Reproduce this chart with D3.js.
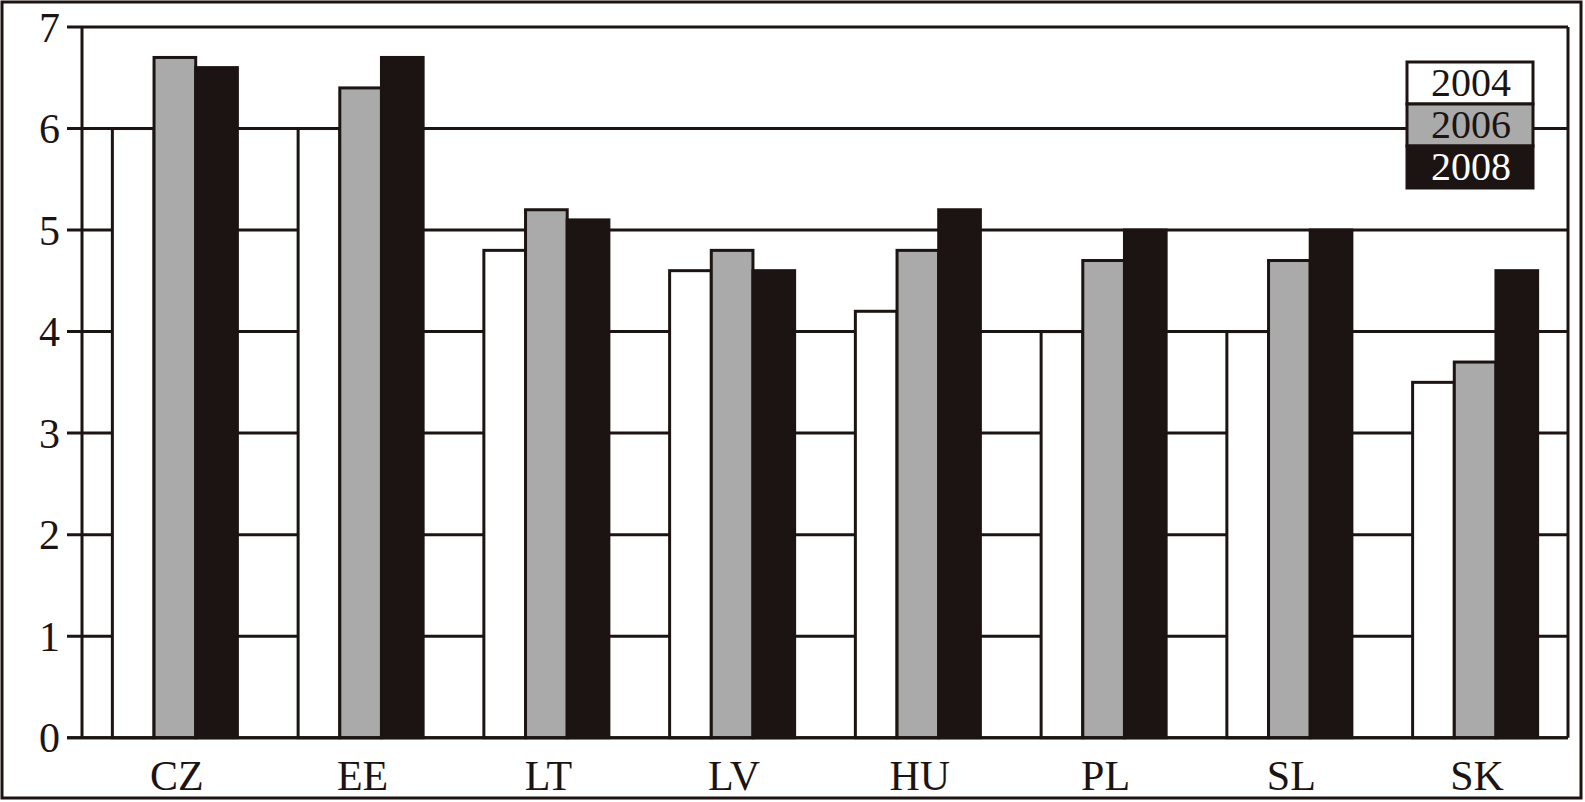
<!DOCTYPE html>
<html><head><meta charset="utf-8">
<script src="https://cdn.jsdelivr.net/npm/d3@7"></script>
<style>body{margin:0;background:#fff}svg{display:block}</style>
</head><body>
<script>
const categories = ["CZ","EE","LT","LV","HU","PL","SL","SK"];
const seriesNames = ["2004","2006","2008"];
const v2004 = [6.0,6.0,4.8,4.6,4.2,4.0,4.0,3.5];
const v2006 = [6.7,6.4,5.2,4.8,4.8,4.7,4.7,3.7];
const v2008 = [6.6,6.7,5.1,4.6,5.2,5.0,5.0,4.6];
const yTicks = [0,1,2,3,4,5,6,7];

(function(){
const W = 1585, H = 802;
const fills = ["#ffffff","#aaaaaa","#1c1412"];
const ink = "#1c1412";
const seriesVals = [v2004, v2006, v2008];

const svg = d3.select("body").append("svg").attr("width", W).attr("height", H);
svg.append("rect").attr("x",0).attr("y",0).attr("width",W).attr("height",H).attr("fill","#fff");
svg.append("rect").attr("x",2).attr("y",2).attr("width",1579).attr("height",796)
  .attr("fill","none").attr("stroke",ink).attr("stroke-width",3);

const pL = 82, pR = 1568, pT = 27, pB = 737.7;
const y = d3.scaleLinear().domain([0,7]).range([pB, pT]);
const x0 = d3.scaleBand().domain(categories).range([pL, pR]).paddingInner(0.327).paddingOuter(0.1635);
const x1 = d3.scaleBand().domain(seriesNames).range([0, x0.bandwidth()]).padding(0);

const font = "'Liberation Serif','DejaVu Serif',serif";

const g = svg.append("g");
g.selectAll("line").data(yTicks).join("line")
  .attr("x1", pL - 15).attr("x2", pR)
  .attr("y1", d => y(d)).attr("y2", d => y(d))
  .attr("stroke",ink).attr("stroke-width",3);
g.selectAll("text").data(yTicks).join("text")
  .attr("x", 60).attr("y", d => y(d)).attr("dy","0.35em")
  .attr("text-anchor","end").attr("font-family",font).attr("font-size",42)
  .attr("fill",ink).text(d => d);
svg.append("line").attr("x1",pL).attr("x2",pL).attr("y1",pT).attr("y2",pB)
  .attr("stroke",ink).attr("stroke-width",3);
svg.append("line").attr("x1",pR).attr("x2",pR).attr("y1",pT).attr("y2",pB)
  .attr("stroke",ink).attr("stroke-width",3);

const groups = svg.append("g").selectAll("g").data(categories).join("g")
  .attr("transform", c => `translate(${x0(c)},0)`);
groups.selectAll("rect").data((c,i) => seriesNames.map((s,j) => ({s, j, v: seriesVals[j][i]})))
  .join("rect")
  .attr("x", d => x1(d.s)).attr("width", x1.bandwidth())
  .attr("y", d => y(d.v)).attr("height", d => pB - y(d.v))
  .attr("fill", d => fills[d.j]).attr("stroke", ink).attr("stroke-width",3);

svg.append("line").attr("x1",pL-15).attr("x2",pR).attr("y1",pB).attr("y2",pB)
  .attr("stroke",ink).attr("stroke-width",3);

svg.append("g").selectAll("text").data(categories).join("text")
  .attr("x", c => x0(c) + x0.bandwidth()/2 + 2).attr("y", 790)
  .attr("text-anchor","middle").attr("font-family",font).attr("font-size",42)
  .attr("fill",ink).text(c => c);

const lx = 1407, ly = 62, lw = 126, lh = 42;
const leg = svg.append("g");
seriesNames.forEach((s,j) => {
  leg.append("rect").attr("x",lx).attr("y",ly + j*lh).attr("width",lw).attr("height",lh)
    .attr("fill",fills[j]).attr("stroke",ink).attr("stroke-width",3);
  leg.append("text").attr("x",lx + lw/2 + 1).attr("y",ly + j*lh + 34)
    .attr("text-anchor","middle").attr("font-family",font).attr("font-size",40)
    .attr("fill", j===2 ? "#ffffff" : ink).text(s);
});
})();
</script>
</body></html>
